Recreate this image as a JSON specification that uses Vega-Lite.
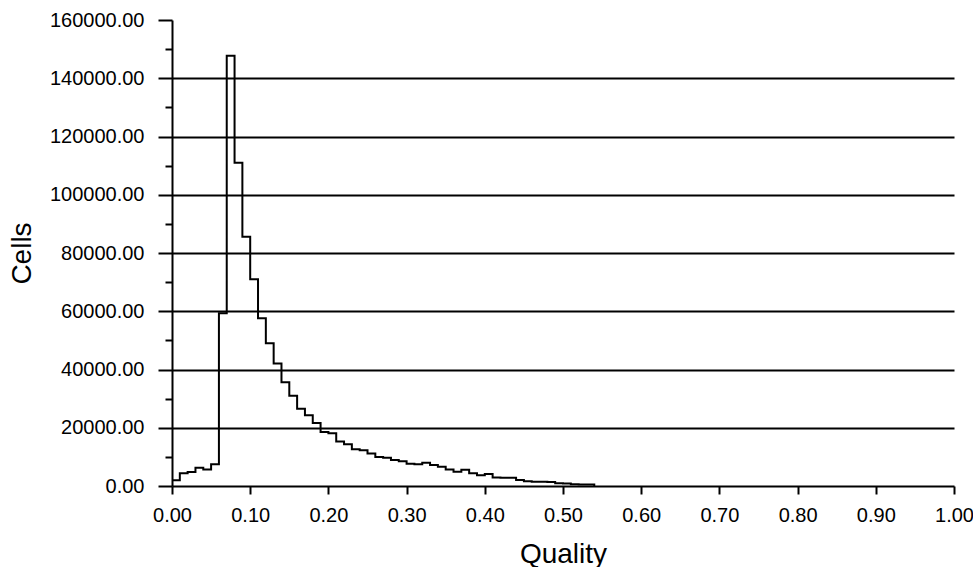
{
  "$schema": "https://vega.github.io/schema/vega-lite/v6.json",
  "width": 782,
  "height": 466,
  "autosize": {"type": "none"},
  "padding": {"left": 172, "top": 20, "right": 19, "bottom": 81},
  "background": "white",
  "config": {"view": {"stroke": null}, "font": "Liberation Sans"},
  "data": {
    "values": [
      {"quality": 0.00, "cells": 2000},
      {"quality": 0.01, "cells": 4400},
      {"quality": 0.02, "cells": 4800},
      {"quality": 0.03, "cells": 6300},
      {"quality": 0.04, "cells": 5700},
      {"quality": 0.05, "cells": 7500},
      {"quality": 0.06, "cells": 59300},
      {"quality": 0.07, "cells": 147700},
      {"quality": 0.08, "cells": 111000},
      {"quality": 0.09, "cells": 85600},
      {"quality": 0.10, "cells": 71000},
      {"quality": 0.11, "cells": 57600},
      {"quality": 0.12, "cells": 49000},
      {"quality": 0.13, "cells": 42100},
      {"quality": 0.14, "cells": 35600},
      {"quality": 0.15, "cells": 31000},
      {"quality": 0.16, "cells": 26500},
      {"quality": 0.17, "cells": 24300},
      {"quality": 0.18, "cells": 21600},
      {"quality": 0.19, "cells": 18500},
      {"quality": 0.20, "cells": 18100},
      {"quality": 0.21, "cells": 15300},
      {"quality": 0.22, "cells": 14300},
      {"quality": 0.23, "cells": 12600},
      {"quality": 0.24, "cells": 12300},
      {"quality": 0.25, "cells": 11200},
      {"quality": 0.26, "cells": 10000},
      {"quality": 0.27, "cells": 9700},
      {"quality": 0.28, "cells": 8900},
      {"quality": 0.29, "cells": 8500},
      {"quality": 0.30, "cells": 7600},
      {"quality": 0.31, "cells": 7500},
      {"quality": 0.32, "cells": 8000},
      {"quality": 0.33, "cells": 7200},
      {"quality": 0.34, "cells": 6600},
      {"quality": 0.35, "cells": 5700},
      {"quality": 0.36, "cells": 4900},
      {"quality": 0.37, "cells": 5600},
      {"quality": 0.38, "cells": 4400},
      {"quality": 0.39, "cells": 3700},
      {"quality": 0.40, "cells": 4100},
      {"quality": 0.41, "cells": 2900},
      {"quality": 0.42, "cells": 2800},
      {"quality": 0.43, "cells": 2800},
      {"quality": 0.44, "cells": 2100},
      {"quality": 0.45, "cells": 1600},
      {"quality": 0.46, "cells": 1500},
      {"quality": 0.47, "cells": 1500},
      {"quality": 0.48, "cells": 1400},
      {"quality": 0.49, "cells": 950},
      {"quality": 0.50, "cells": 850},
      {"quality": 0.51, "cells": 600},
      {"quality": 0.52, "cells": 550},
      {"quality": 0.53, "cells": 500},
      {"quality": 0.54, "cells": 0}
    ]
  },
  "mark": {"type": "line", "interpolate": "step-after", "color": "black", "strokeWidth": 2},
  "encoding": {
    "x": {
      "field": "quality",
      "type": "quantitative",
      "scale": {"domain": [0, 1], "nice": false, "zero": false},
      "axis": {
        "title": "Quality",
        "values": [0, 0.1, 0.2, 0.3, 0.4, 0.5, 0.6, 0.7, 0.8, 0.9, 1.0],
        "format": ".2f",
        "grid": false,
        "labelFlush": false,
        "labelOverlap": false,
        "domainColor": "black",
        "domainWidth": 2,
        "tickColor": "black",
        "tickWidth": 2,
        "tickSize": 8,
        "labelFontSize": 20,
        "labelColor": "black",
        "labelPadding": 11,
        "titleFontSize": 28,
        "titleFontWeight": "normal",
        "titleColor": "black",
        "titlePadding": 15
      }
    },
    "y": {
      "field": "cells",
      "type": "quantitative",
      "scale": {"domain": [0, 160000], "nice": false},
      "axis": {
        "title": "Cells",
        "values": [0, 10000, 20000, 30000, 40000, 50000, 60000, 70000, 80000, 90000, 100000, 110000, 120000, 130000, 140000, 150000, 160000],
        "labelExpr": "datum.value % 20000 === 0 ? format(datum.value, '.2f') : ''",
        "labelOverlap": false,
        "labelFlush": false,
        "tickSize": {"condition": {"test": "datum.value % 20000 === 0", "value": 14}, "value": 7},
        "tickColor": "black",
        "tickWidth": 2,
        "grid": true,
        "gridColor": "black",
        "gridWidth": 2,
        "gridOpacity": {"condition": {"test": "datum.value % 20000 === 0 && datum.value > 0 && datum.value < 160000", "value": 1}, "value": 0},
        "domainColor": "black",
        "domainWidth": 2,
        "labelFontSize": 20,
        "labelColor": "black",
        "labelPadding": 14,
        "titleFontSize": 28,
        "titleFontWeight": "normal",
        "titleColor": "black",
        "titlePadding": 13
      }
    }
  }
}
